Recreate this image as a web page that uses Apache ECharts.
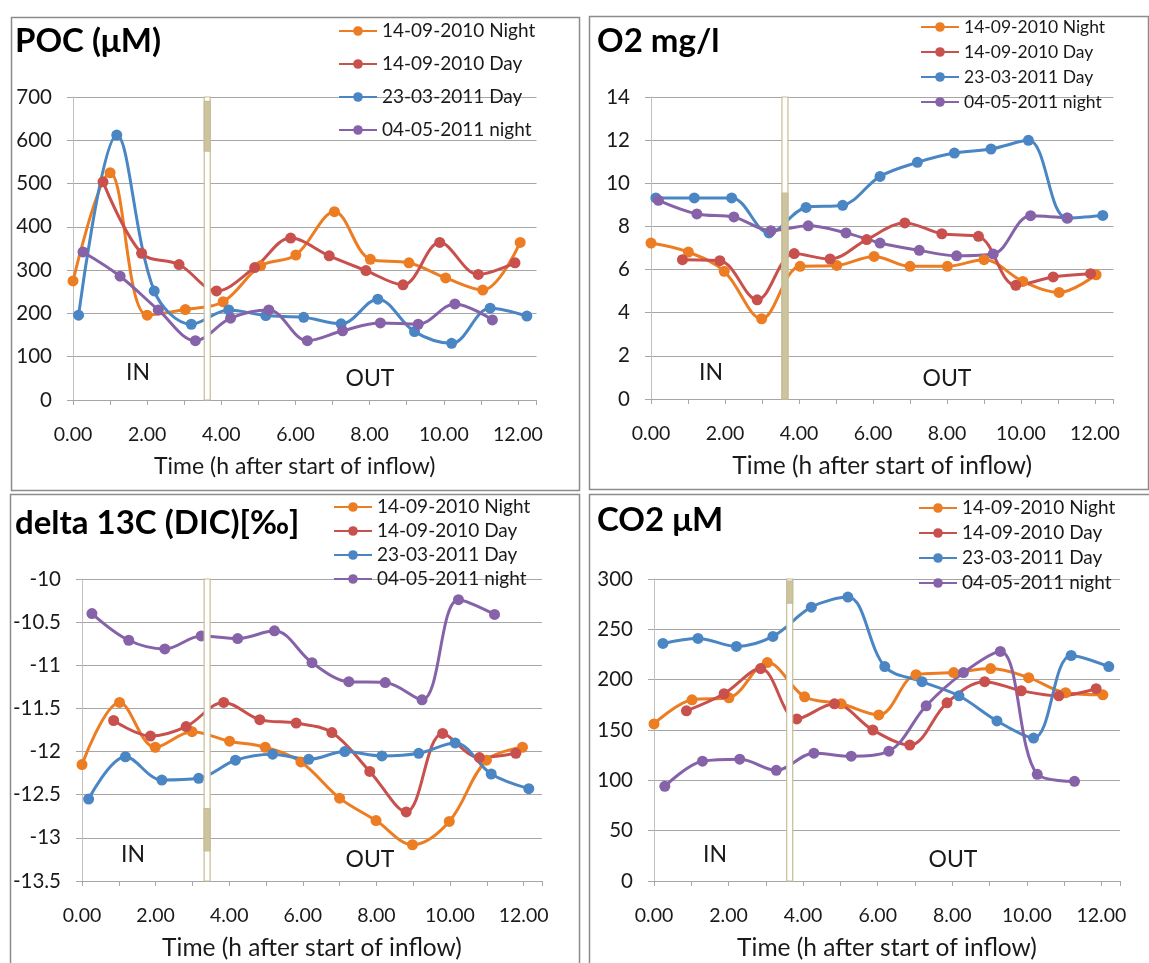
<!DOCTYPE html>
<html>
<head>
<meta charset="utf-8">
<script src="https://cdn.jsdelivr.net/npm/echarts@6/dist/echarts.min.js"></script>
<style>
  html, body { margin: 0; padding: 0; background: #fff; }
  #main { width: 1149px; height: 963px; }
</style>
</head>
<body>
<div id="main"></div>
<script>
// series names
var seriesNames = ['14-09-2010 Night', '14-09-2010 Day', '23-03-2011 Day', '04-05-2011 night'];
var seriesColors = ['#ED7D22', '#C8504D', '#4A85C4', '#8662A8'];

// POC (uM) : [time h, value]
var pocNight = [[0, 275], [1.0, 525], [2.0, 196], [3.03, 209], [4.05, 227], [5.06, 310], [6.01, 335], [7.05, 435], [8.02, 325], [9.06, 317], [10.05, 282], [11.05, 254], [12.06, 364]];
var pocDay = [[0.81, 504], [1.85, 339], [2.86, 313], [3.87, 252], [4.90, 306], [5.87, 374], [6.91, 333], [7.90, 299], [8.90, 266], [9.89, 364], [10.93, 290], [11.92, 317]];
var pocMar = [[0.15, 196], [1.18, 612], [2.19, 252], [3.19, 175], [4.20, 208], [5.20, 195], [6.22, 191], [7.23, 176], [8.22, 233], [9.21, 158], [10.21, 131], [11.25, 212], [12.24, 194]];
var pocMay = [[0.27, 342], [1.27, 286], [2.30, 208], [3.30, 137], [4.25, 189], [5.28, 208], [6.32, 137], [7.27, 160], [8.29, 178], [9.31, 175], [10.30, 222], [11.31, 185]];

// O2 mg/l
var o2Night = [[0, 7.23], [1.01, 6.81], [1.98, 5.92], [2.99, 3.72], [4.03, 6.15], [5.02, 6.19], [6.03, 6.61], [7.0, 6.15], [8.01, 6.15], [9.0, 6.46], [10.05, 5.45], [11.03, 4.94], [12.03, 5.76]];
var o2Day = [[0.85, 6.46], [1.86, 6.41], [2.87, 4.60], [3.87, 6.74], [4.84, 6.49], [5.83, 7.39], [6.86, 8.16], [7.86, 7.66], [8.85, 7.54], [9.86, 5.27], [10.87, 5.66], [11.88, 5.81]];
var o2Mar = [[0.13, 9.32], [1.17, 9.32], [2.18, 9.32], [3.19, 7.70], [4.19, 8.88], [5.18, 8.98], [6.19, 10.32], [7.20, 10.97], [8.20, 11.40], [9.19, 11.59], [10.20, 11.99], [11.24, 8.39], [12.21, 8.51]];
var o2May = [[0.20, 9.21], [1.24, 8.58], [2.24, 8.44], [3.24, 7.80], [4.25, 8.03], [5.27, 7.70], [6.19, 7.23], [7.25, 6.89], [8.26, 6.64], [9.25, 6.72], [10.26, 8.50], [11.26, 8.39]];

// delta 13C (DIC) [permil]
var dcNight = [[0, -12.15], [1.02, -11.43], [1.99, -11.95], [2.99, -11.77], [4.01, -11.88], [4.98, -11.95], [5.95, -12.12], [7.0, -12.54], [7.99, -12.80], [8.98, -13.08], [9.98, -12.81], [10.99, -12.10], [11.97, -11.95]];
var dcDay = [[0.86, -11.64], [1.86, -11.82], [2.83, -11.71], [3.85, -11.43], [4.83, -11.63], [5.82, -11.67], [6.79, -11.78], [7.82, -12.23], [8.81, -12.70], [9.80, -11.79], [10.80, -12.07], [11.79, -12.02]];
var dcMar = [[0.18, -12.55], [1.18, -12.06], [2.17, -12.33], [3.17, -12.31], [4.17, -12.10], [5.18, -12.03], [6.16, -12.09], [7.14, -12.00], [8.15, -12.05], [9.15, -12.02], [10.14, -11.90], [11.12, -12.26], [12.14, -12.43]];
var dcMay = [[0.27, -10.40], [1.27, -10.71], [2.25, -10.81], [3.24, -10.66], [4.23, -10.69], [5.23, -10.60], [6.25, -10.97], [7.25, -11.19], [8.24, -11.20], [9.24, -11.40], [10.23, -10.24], [11.21, -10.41]];

// CO2 uM
var co2Night = [[0, 156], [1.02, 180], [2.01, 182], [3.04, 217], [4.04, 183], [5.02, 176], [6.03, 165], [7.03, 205], [8.04, 207], [9.03, 211], [10.05, 202], [11.04, 187], [12.04, 185]];
var co2Day = [[0.87, 169], [1.88, 186], [2.86, 211], [3.83, 161], [4.84, 176], [5.87, 150], [6.86, 135], [7.86, 177], [8.87, 198], [9.85, 189], [10.86, 184], [11.86, 191]];
var co2Mar = [[0.24, 236], [1.18, 241], [2.21, 233], [3.19, 243], [4.22, 272], [5.20, 282], [6.19, 213], [7.19, 198], [8.18, 184], [9.20, 159], [10.18, 142], [11.19, 224], [12.20, 213]];
var co2May = [[0.29, 94], [1.30, 119], [2.30, 121], [3.28, 110], [4.29, 127], [5.29, 124], [6.30, 129], [7.30, 174], [8.30, 207], [9.29, 228], [10.28, 106], [11.28, 99]];

// inflow marker bar per panel: [time, from, to, filled]
var markPoc = [[3.62, 0, 700, 0], [3.62, 575, 690, 1]];
var markO2 = [[3.62, 0, 14, 0], [3.62, 0, 9.55, 1]];
var markDc = [[3.40, -13.5, -10, 0], [3.40, -13.15, -12.66, 1]];
var markCo2 = [[3.64, 0, 300, 0], [3.64, 276, 298, 1]];

// y axis ranges
var yMin = [0, 0, -13.5, 0];
var yMax = [700, 14, -10, 300];
var yStep = [100, 2, 0.5, 50];

var titles = ['POC (μM)', 'O2 mg/l', 'delta 13C (DIC)[‰]', 'CO2 μM'];

var FONT = 'Lato';
var panelData = [
  [pocNight, pocDay, pocMar, pocMay],
  [o2Night, o2Day, o2Mar, o2May],
  [dcNight, dcDay, dcMar, dcMay],
  [co2Night, co2Day, co2Mar, co2May]
];
var marks = [markPoc, markO2, markDc, markCo2];

// layout (pixels)
var grids = [
  { left: 73, top: 97, width: 463.5, height: 303 },
  { left: 651, top: 97, width: 462.5, height: 302 },
  { left: 82, top: 579, width: 460, height: 302 },
  { left: 654, top: 579, width: 466, height: 302 }
];
var boxes = [[9, 15, 568, 473], [587, 14, 559, 473], [8, 492, 569, 480], [587, 492, 570, 480]];
var legendPos = [
  { left: 338, top: 21, itemGap: 13 },
  { left: 920, top: 17, itemGap: 5 },
  { left: 333, top: 497, itemGap: 4 },
  { left: 918, top: 498, itemGap: 5 }
];
var legendFont = [19, 17.5, 19, 19];
var nameSize = [23, 24.5, 24.5, 24.5];
var nameShift = [20, 0, 0, 0];
var titlePos = [[15, 25], [597, 25], [15, 507], [597, 504]];
var inOut = [[[138, 373], [370, 379]], [[711, 373], [947, 379]], [[133, 855], [370, 860]], [[715, 855], [953, 860]]];

function renderMark(params, api) {
  var t = api.value(0);
  var lo = api.coord([t, api.value(1)]);
  var hi = api.coord([t, api.value(2)]);
  var filled = api.value(3) === 1;
  return {
    type: 'rect',
    shape: { x: lo[0] - 3, y: hi[1], width: 6, height: lo[1] - hi[1] },
    style: { fill: filled ? '#cdc49d' : '#ffffff', stroke: '#c6bd96', lineWidth: 1.2 }
  };
}

var option = {
  animation: false,
  backgroundColor: '#ffffff',
  title: [],
  legend: [],
  grid: [],
  xAxis: [],
  yAxis: [],
  series: [],
  graphic: []
};

for (var p = 0; p < 4; p++) {
  option.grid.push(grids[p]);
  option.title.push({
    text: titles[p], left: titlePos[p][0], top: titlePos[p][1], padding: 0,
    textStyle: { fontFamily: FONT, fontSize: 33, fontWeight: 'bold', color: '#000' }
  });
  option.legend.push(Object.assign({
    orient: 'vertical',
    data: seriesNames,
    itemWidth: 38,
    itemHeight: 12,
    padding: 0,
    selectedMode: false,
    textStyle: { fontFamily: FONT, fontSize: legendFont[p], color: '#1a1a1a', lineHeight: 20 }
  }, legendPos[p]));
  option.xAxis.push({
    type: 'value', gridIndex: p, min: 0, max: 12.5, interval: 1,
    name: 'Time (h after start of inflow)', nameLocation: 'middle', nameGap: 55,
    nameTextStyle: { fontFamily: FONT, fontSize: nameSize[p], color: '#1a1a1a', padding: [0, nameShift[p], 0, 0] },
    axisLine: { show: true, lineStyle: { color: '#a6a6a6', width: 1 } },
    axisTick: { show: true, length: 5, lineStyle: { color: '#a6a6a6' } },
    splitLine: { show: false },
    axisLabel: {
      margin: 25, fontFamily: FONT, fontSize: 19.5, color: '#1a1a1a',
      formatter: function (v) { return (Math.abs(v % 2) < 1e-9 && v <= 12) ? v.toFixed(2) : ''; }
    }
  });
  option.yAxis.push({
    type: 'value', gridIndex: p, min: yMin[p], max: yMax[p], interval: yStep[p],
    axisLine: { show: true, lineStyle: { color: '#bfbfbf', width: 1 } },
    axisTick: { show: true, length: 6, lineStyle: { color: '#a6a6a6' } },
    splitLine: { show: true, lineStyle: { color: '#a6a6a6', width: 1 } },
    axisLabel: { margin: 21, fontFamily: FONT, fontSize: 20.5, color: '#1a1a1a' }
  });
  for (var s = 0; s < 4; s++) {
    option.series.push({
      type: 'line', name: seriesNames[s], xAxisIndex: p, yAxisIndex: p,
      data: panelData[p][s], smooth: 0.35,
      symbol: 'circle', symbolSize: 11,
      lineStyle: { width: 3, color: seriesColors[s] },
      itemStyle: { color: seriesColors[s] },
      z: 3
    });
  }
  option.series.push({
    type: 'custom', xAxisIndex: p, yAxisIndex: p, data: marks[p],
    renderItem: renderMark, z: 10, silent: true
  });
  option.graphic.push({
    type: 'rect', left: boxes[p][0], top: boxes[p][1],
    shape: { width: boxes[p][2], height: boxes[p][3] },
    style: { fill: 'none', stroke: '#8c8c8c', lineWidth: 1.5 }, z: 100, silent: true
  });
  option.graphic.push({
    type: 'text', x: inOut[p][0][0], y: inOut[p][0][1],
    style: { text: 'IN', font: '23px ' + FONT, fill: '#1a1a1a', align: 'center', verticalAlign: 'middle' }
  });
  option.graphic.push({
    type: 'text', x: inOut[p][1][0], y: inOut[p][1][1],
    style: { text: 'OUT', font: '23px ' + FONT, fill: '#1a1a1a', align: 'center', verticalAlign: 'middle' }
  });
}

var chart = echarts.init(document.getElementById('main'), null, { renderer: 'canvas' });
chart.setOption(option);
</script>
</body>
</html>
